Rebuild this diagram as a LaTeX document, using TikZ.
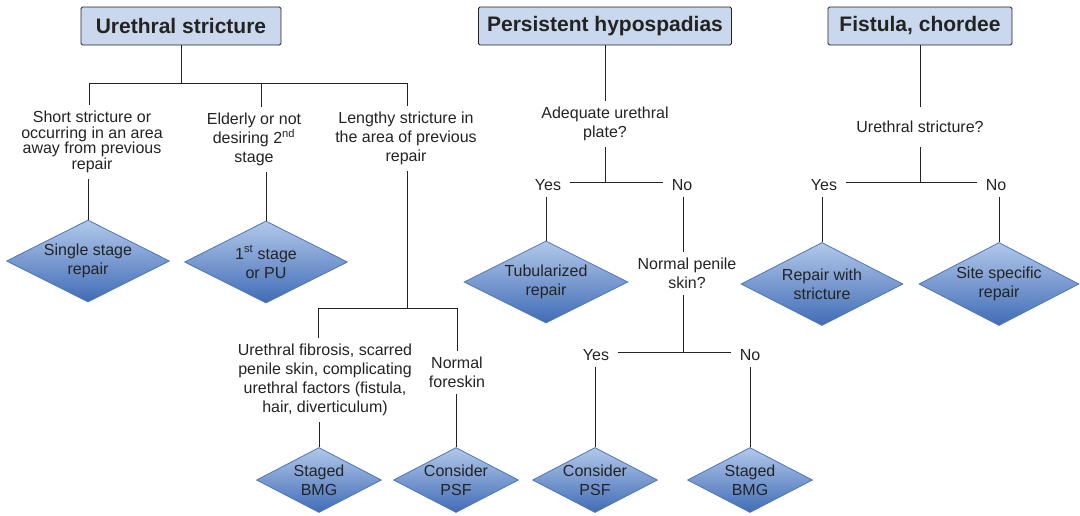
\documentclass[tikz,border=0pt]{standalone}
\usepackage{fontspec}
\setmainfont{Liberation Sans}
\usetikzlibrary{shapes.geometric}
\definecolor{hdrfill}{RGB}{201,216,236}
\definecolor{dtop}{RGB}{178,200,234}
\definecolor{dbot}{RGB}{64,108,182}
\definecolor{dline}{RGB}{78,118,188}
\definecolor{ink}{RGB}{35,35,35}
\tikzset{
  hdr/.style={rectangle,draw=ink,fill=hdrfill,rounded corners=1.5pt,line width=0.8pt,minimum height=38pt,inner sep=0pt,font=\fontsize{21}{25}\selectfont\bfseries},
  lbl/.style={align=center,inner sep=6pt,font=\fontsize{16}{19}\selectfont},
  yn/.style={inner xsep=9pt,inner ysep=6pt,font=\fontsize{16}{19}\selectfont},
  dec/.style={diamond,aspect=2,draw=dline,line width=0.8pt,top color=dtop,bottom color=dbot,align=center,inner sep=0pt,minimum width=163pt,minimum height=82pt,font=\fontsize{16}{19}\selectfont},
  decs/.style={dec,inner sep=-4pt,minimum width=125pt,minimum height=65pt},
  link/.style={draw=ink,line width=1pt}
}
\begin{document}
\begin{tikzpicture}[x=1pt,y=-1pt,every node/.append style={text=ink}]
    \useasboundingbox (0,0) rectangle (1080,515);
    \node[hdr,minimum width=200pt] (us) at (181,26) {Urethral stricture};
    \node[hdr,minimum width=253pt] (ph) at (605,26) {Persistent hypospadias};
    \node[hdr,minimum width=184pt] (fc) at (920,26) {Fistula, chordee};

    \coordinate (uj) at (181,83);
    \coordinate (ua) at (89,83);
    \coordinate (ub) at (261,83);
    \coordinate (uc) at (407,83);
    \node[lbl,font=\fontsize{16}{15.7}\selectfont] (ushort) at (92,142) {Short stricture or\\occurring in an area\\away from previous\\repair};
    \node[lbl] (uold) at (254,139.5) {Elderly or not\\desiring 2\textsuperscript{nd}\\stage};
    \node[lbl] (ulong) at (406,138.5) {Lengthy stricture in\\the area of previous\\repair};
    \node[dec] (dsingle) at (88,261) {Single stage\\repair};
    \node[dec] (dfirst) at (266,262) {1\textsuperscript{st} stage\\or PU};
    \coordinate (lj) at (407,308);
    \coordinate (la) at (318,308);
    \coordinate (lb) at (457,308);
    \node[lbl] (ufib) at (325,380) {Urethral fibrosis, scarred\\penile skin, complicating\\urethral factors (fistula,\\hair, diverticulum)};
    \node[lbl] (uskin) at (457,372.5) {Normal\\foreskin};
    \node[decs] (dbmg) at (319,480) {Staged\\BMG};
    \node[decs] (dpsf) at (456,480) {Consider\\PSF};

    \draw[link] (us) -- (uj);
    \draw[link] (ua) -- (uc);
    \draw[link] (ua) -- (ua |- ushort.north);
    \draw[link] (ub) -- (ub |- uold.north);
    \draw[link] (uc) -- (uc |- ulong.north);
    \draw[link] (dsingle.north |- ushort.south) -- (dsingle.north);
    \draw[link] (dfirst.north |- uold.south) -- (dfirst.north);
    \draw[link] (ulong.south -| lj) -- (lj);
    \draw[link] (la) -- (lb);
    \draw[link] (la) -- (la |- ufib.north);
    \draw[link] (lb) -- (lb |- uskin.north);
    \draw[link] (dbmg.north |- ufib.south) -- (dbmg.north);
    \draw[link] (dpsf.north |- uskin.south) -- (dpsf.north);

    \node[lbl] (pplate) at (605,124) {Adequate urethral\\plate?};
    \coordinate (pj) at (605,182);
    \node[yn] (pyes) at (548,185) {Yes};
    \node[yn] (pno) at (682,185) {No};
    \node[dec,minimum width=164pt] (dtub) at (546,282) {Tubularized\\repair};
    \node[lbl] (pskin) at (687,273.5) {Normal penile\\skin?};
    \coordinate (qj) at (683,352);
    \node[yn] (qyes) at (596,355) {Yes};
    \node[yn] (qno) at (750,355) {No};
    \node[decs] (dpsf2) at (595,480) {Consider\\PSF};
    \node[decs] (dbmg2) at (750,480) {Staged\\BMG};

    \draw[link] (ph) -- (pplate);
    \draw[link] (pplate) -- (pj);
    \draw[link] (pj -| pyes.east) -- (pj -| pno.west);
    \draw[link] (dtub.north |- pyes.south) -- (dtub.north);
    \draw[link] (qj |- pno.south) -- (qj |- pskin.north);
    \draw[link] (qj |- pskin.south) -- (qj);
    \draw[link] (qj -| qyes.east) -- (qj -| qno.west);
    \draw[link] (dpsf2.north |- qyes.south) -- (dpsf2.north);
    \draw[link] (dbmg2.north |- qno.south) -- (dbmg2.north);

    \node[lbl,inner ysep=14pt] (fstr) at (920,127) {Urethral stricture?};
    \coordinate (fj) at (920,182);
    \node[yn] (fyes) at (824,185) {Yes};
    \node[yn] (fno) at (996,185) {No};
    \node[dec,minimum width=162pt,minimum height=83pt] (drep) at (822,284) {Repair with\\stricture};
    \node[dec,minimum width=160pt,minimum height=83pt] (dsite) at (999,284) {Site specific\\repair};

    \draw[link] (fc) -- (fstr);
    \draw[link] (fstr) -- (fj);
    \draw[link] (fj -| fyes.east) -- (fj -| fno.west);
    \draw[link] (drep.north |- fyes.south) -- (drep.north);
    \draw[link] (dsite.north |- fno.south) -- (dsite.north);
\end{tikzpicture}
\end{document}
